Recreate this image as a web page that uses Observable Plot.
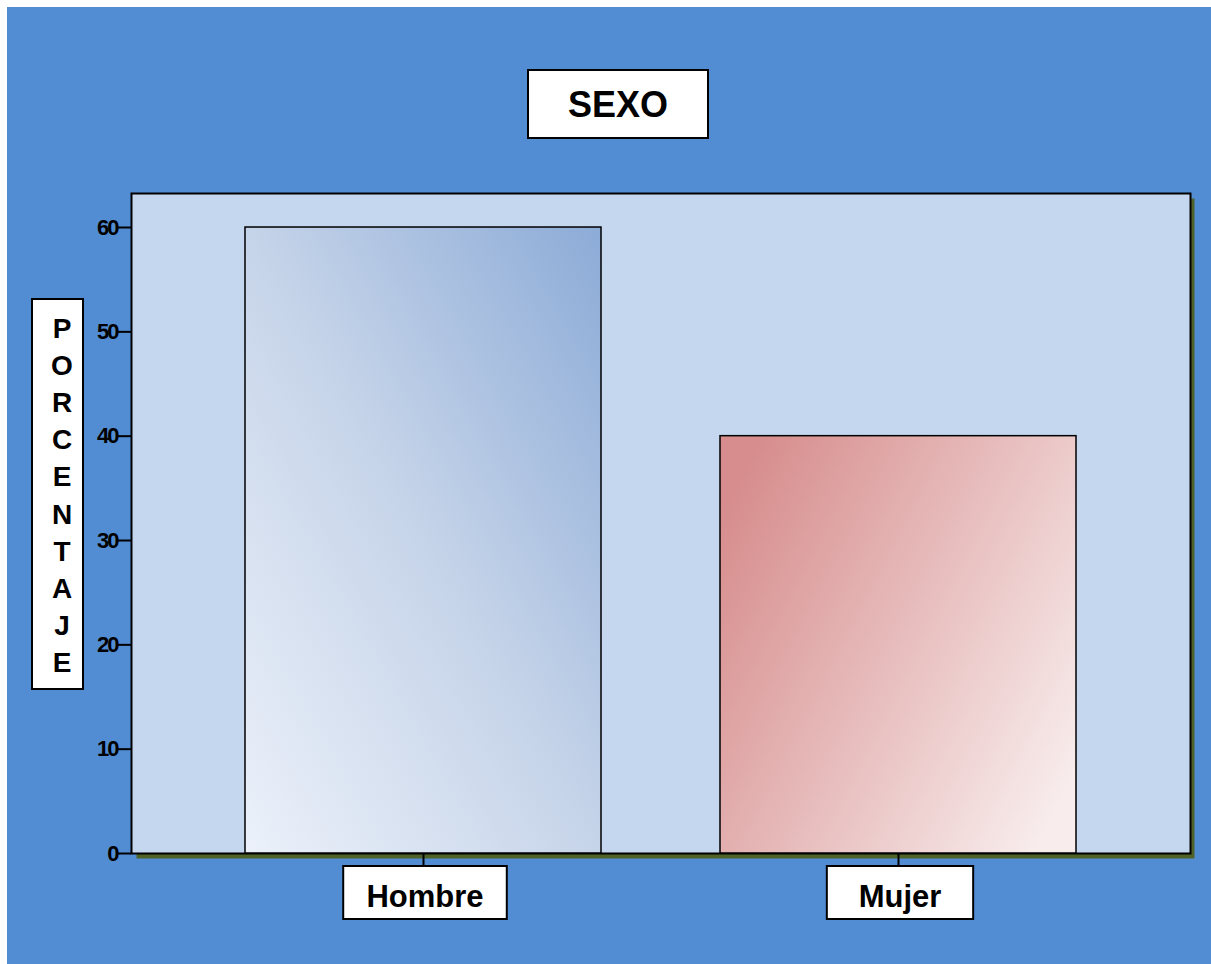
<!DOCTYPE html>
<html><head><meta charset="utf-8">
<script src="https://cdn.jsdelivr.net/npm/d3@7"></script>
<script src="https://cdn.jsdelivr.net/npm/@observablehq/plot@0.6"></script>
<style>
html,body{margin:0;padding:0;background:#fff;}
#wrap{padding:7px 0 0 7px;}
svg{display:block;}
</style></head><body><div id="wrap"></div>
<script>
const categories = ["Hombre", "Mujer"];
const percentages = [60, 40];
const yTicks = [0, 10, 20, 30, 40, 50, 60];
const titleText = "SEXO";
const yLabelText = "PORCENTAJE";
const gradients = {Hombre: "url(#gradHombre)", Mujer: "url(#gradMujer)"};

const data = categories.map((c, i) => ({sexo: c, pct: percentages[i]}));
const W = 1204, H = 957;
const FONT = "'Liberation Sans', Arial, Helvetica, sans-serif";

function defsMark() {
  const g = d3.create("svg:g");
  const d = g.append("defs");
  const gh = d.append("linearGradient").attr("id", "gradHombre")
    .attr("x1", 0).attr("y1", 1).attr("x2", 1).attr("y2", 0);
  gh.append("stop").attr("offset", 0).attr("stop-color", "#ecf1fa");
  gh.append("stop").attr("offset", 0.5).attr("stop-color", "#c6d4e9");
  gh.append("stop").attr("offset", 1).attr("stop-color", "#8cabd7");
  const gm = d.append("linearGradient").attr("id", "gradMujer")
    .attr("x1", 0).attr("y1", 0.2).attr("x2", 1).attr("y2", 0.8);
  gm.append("stop").attr("offset", 0).attr("stop-color", "#d78d8d");
  gm.append("stop").attr("offset", 1).attr("stop-color", "#f8ecec");
  return g.node();
}

function annotations(index, scales) {
  const g = d3.create("svg:g").attr("font-family", FONT).attr("font-weight", "bold").attr("fill", "black");
  const ctx = document.createElement("canvas").getContext("2d");
  const box = (x, y, w, h) => g.append("rect").attr("x", x).attr("y", y).attr("width", w).attr("height", h)
    .attr("fill", "white").attr("stroke", "black").attr("stroke-width", 2);
  // title
  box(521, 63, 180, 68);
  g.append("text").attr("x", 611).attr("y", 110).attr("text-anchor", "middle")
    .attr("font-size", 36).text(titleText);
  // y label
  box(25, 292, 51, 390);
  Array.from(yLabelText).forEach((ch, i) => {
    g.append("text").attr("x", 55).attr("y", 331 + i * 37.1).attr("text-anchor", "middle")
      .attr("font-size", 28).text(ch);
  });
  // x labels
  const sx = scales.x;
  const bw = typeof sx.bandwidth === "function" ? sx.bandwidth() : (sx.bandwidth || 0);
  ctx.font = "bold 31px " + FONT;
  categories.forEach(c => {
    const cx = sx(c) + bw / 2;
    const tw = ctx.measureText(c).width;
    const w = tw * 0.5 + 105;
    box(cx - w / 2 + 2, 859, w, 53);
    g.append("text").attr("x", cx + 2).attr("y", 900).attr("text-anchor", "middle")
      .attr("font-size", 31).text(c);
  });
  return g.node();
}

const chart = Plot.plot({
  width: W,
  height: H,
  marginLeft: 124,
  marginRight: 21,
  marginTop: 186,
  marginBottom: 111,
  style: {background: "#528dd4", fontFamily: FONT, color: "black", overflow: "visible"},
  x: {domain: categories, paddingInner: 0.25, paddingOuter: 0.2374},
  y: {domain: [0, 63.26]},
  marks: [
    defsMark,
    Plot.frame({fill: "#4f6228", insetTop: 5, insetLeft: 5, insetRight: -4, insetBottom: -5}),
    Plot.frame({fill: "#c5d7ef", stroke: "black", strokeWidth: 2}),
    ...categories.map(c => Plot.barY(data.filter(d => d.sexo === c), {
      x: "sexo", y: "pct", fill: gradients[c], stroke: "black", strokeWidth: 1.5
    })),
    Plot.axisY({ticks: yTicks, tickSize: 14, tickPadding: 0, fontSize: 22, fontWeight: "bold",
      stroke: "black", strokeWidth: 2, label: null, tickFormat: d => String(d)}),
    Plot.axisX({tickSize: 13, tickFormat: () => "", stroke: "black", strokeWidth: 2, label: null}),
    annotations
  ]
});
d3.select(chart).selectAll("g[aria-label='y-axis tick label'] text").attr("letter-spacing", "-2px");
document.getElementById("wrap").appendChild(chart);
</script></body></html>
